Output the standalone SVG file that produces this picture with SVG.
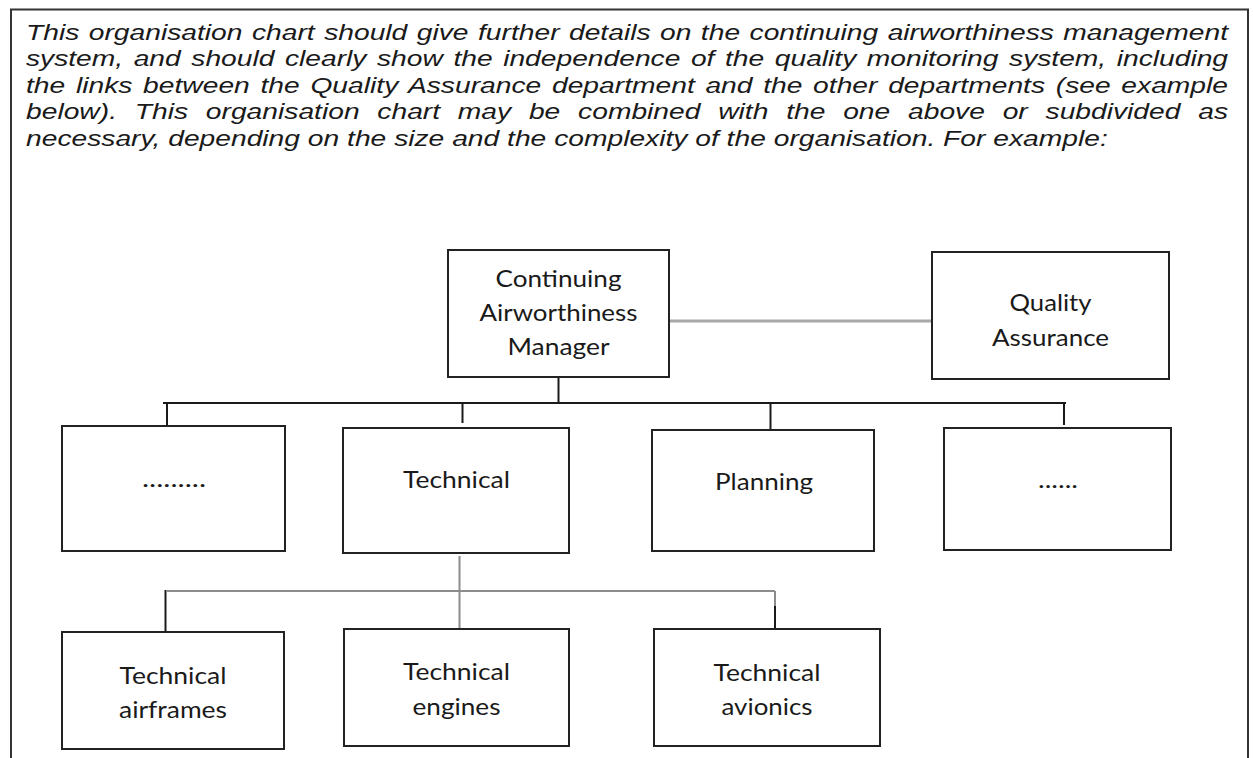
<svg xmlns="http://www.w3.org/2000/svg" width="1253" height="758" viewBox="0 0 1253 758">
<style>
.frame{fill:none;stroke:#333;stroke-width:2}
.box{fill:#fff;stroke:#222;stroke-width:2}
.para{font-family:"Liberation Sans",Arial,sans-serif;font-style:italic;font-size:22px;fill:#1a1a1a}
.lbl{font-family:Lato,"Open Sans",sans-serif;font-size:23px;fill:#1a1a1a;text-anchor:middle}
.ln{stroke:#1a1a1a;stroke-width:2;fill:none}
.gl{stroke:#8c8c8c;stroke-width:2;fill:none}
.gl3{stroke:#a8a8a8;stroke-width:3;fill:none}
</style>
<rect width="1253" height="758" fill="#fff"/>
<path class="frame" d="M11,758 V9.5 H1248 V758"/>
<g id="intro" transform="translate(26,0) scale(1.283,1)">
<text class="para" x="0" y="40" textLength="936.9" lengthAdjust="spacing" word-spacing="1.27">This organisation chart should give further details on the continuing airworthiness management</text>
<text class="para" x="0" y="66.4" textLength="936.9" lengthAdjust="spacing" word-spacing="2.13">system, and should clearly show the independence of the quality monitoring system, including</text>
<text class="para" x="0" y="92.8" textLength="936.9" lengthAdjust="spacing" word-spacing="2.21">the links between the Quality Assurance department and the other departments (see example</text>
<text class="para" x="0" y="119.2" textLength="936.9" lengthAdjust="spacing" word-spacing="7.73">below). This organisation chart may be combined with the one above or subdivided as</text>
<text class="para" x="0" y="145.6">necessary, depending on the size and the complexity of the organisation. For example:</text>
</g>
<g id="connectors">
<line class="gl3" x1="669" y1="321" x2="932" y2="321"/>
<line class="ln" x1="558.5" y1="377" x2="558.5" y2="403"/>
<line class="ln" x1="163" y1="403" x2="1066" y2="403"/>
<line class="ln" x1="167" y1="403" x2="167" y2="426"/>
<line class="ln" x1="462.5" y1="403" x2="462.5" y2="423"/>
<line class="ln" x1="770.5" y1="403" x2="770.5" y2="430"/>
<line class="ln" x1="1064" y1="403" x2="1064" y2="425"/>
<line class="gl" x1="459.5" y1="556" x2="459.5" y2="629"/>
<line class="gl" x1="167" y1="591" x2="775" y2="591"/>
<line class="ln" x1="165.5" y1="590" x2="165.5" y2="632"/>
<line class="gl" x1="775" y1="591" x2="775" y2="606"/>
<line class="ln" x1="775" y1="606" x2="775" y2="629"/>
</g>
<g id="cam">
<rect class="box" x="448" y="250" width="221" height="127"/>
<text class="lbl" x="558.5" y="287" textLength="126" lengthAdjust="spacingAndGlyphs">Continuing</text>
<text class="lbl" x="558.5" y="321" textLength="158" lengthAdjust="spacingAndGlyphs">Airworthiness</text>
<text class="lbl" x="558.5" y="355" textLength="102" lengthAdjust="spacingAndGlyphs">Manager</text>
</g>
<g id="qa">
<rect class="box" x="932" y="252" width="237" height="127"/>
<text class="lbl" x="1050.5" y="311" textLength="82" lengthAdjust="spacingAndGlyphs">Quality</text>
<text class="lbl" x="1050.5" y="346" textLength="117" lengthAdjust="spacingAndGlyphs">Assurance</text>
</g>
<g id="dept1">
<rect class="box" x="62" y="426" width="223" height="125"/>
<text class="lbl" x="174" y="487" textLength="64" lengthAdjust="spacingAndGlyphs">.........</text>
</g>
<g id="technical">
<rect class="box" x="343" y="428" width="226" height="125"/>
<text class="lbl" x="456.5" y="488" textLength="107" lengthAdjust="spacingAndGlyphs">Technical</text>
</g>
<g id="planning">
<rect class="box" x="652" y="430" width="222" height="121"/>
<text class="lbl" x="764" y="490" textLength="98" lengthAdjust="spacingAndGlyphs">Planning</text>
</g>
<g id="dept4">
<rect class="box" x="944" y="428" width="227" height="122"/>
<text class="lbl" x="1058" y="488" textLength="40" lengthAdjust="spacingAndGlyphs">......</text>
</g>
<g id="airframes">
<rect class="box" x="62" y="632" width="222" height="117"/>
<text class="lbl" x="173" y="684" textLength="107" lengthAdjust="spacingAndGlyphs">Technical</text>
<text class="lbl" x="173" y="718" textLength="108" lengthAdjust="spacingAndGlyphs">airframes</text>
</g>
<g id="engines">
<rect class="box" x="344" y="629" width="225" height="117"/>
<text class="lbl" x="456.5" y="680" textLength="107" lengthAdjust="spacingAndGlyphs">Technical</text>
<text class="lbl" x="456.5" y="715" textLength="88" lengthAdjust="spacingAndGlyphs">engines</text>
</g>
<g id="avionics">
<rect class="box" x="654" y="629" width="226" height="117"/>
<text class="lbl" x="767" y="681" textLength="107" lengthAdjust="spacingAndGlyphs">Technical</text>
<text class="lbl" x="767" y="715" textLength="91" lengthAdjust="spacingAndGlyphs">avionics</text>
</g>
</svg>
